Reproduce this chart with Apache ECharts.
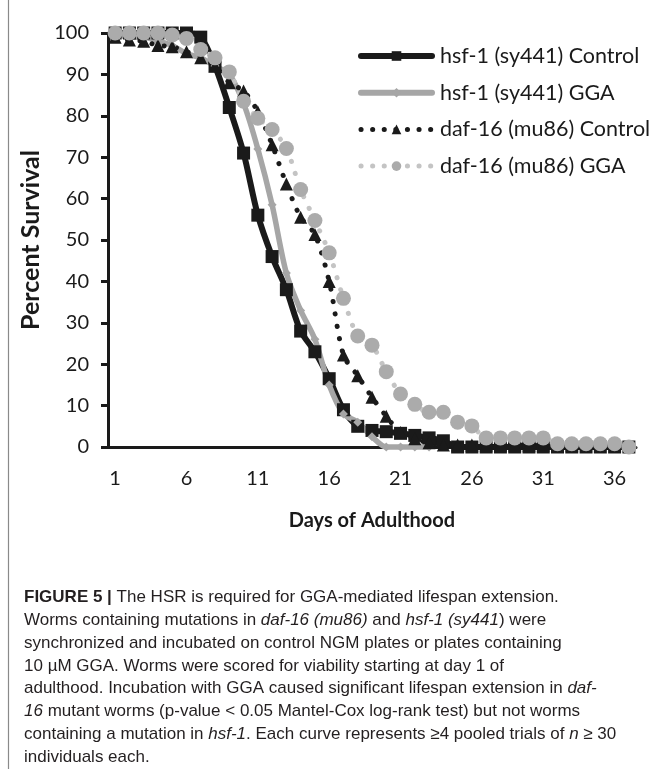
<!DOCTYPE html>
<html>
<head>
<meta charset="utf-8">
<script src="https://cdn.jsdelivr.net/npm/echarts@6/dist/echarts.min.js"></script>
<style>
html,body{margin:0;padding:0;background:#fff;}
#chart{width:655px;height:769px;}
</style>
</head>
<body>
<div id="chart"></div>
<script>
// ---- data ----
const days = ['1','2','3','4','5','6','7','8','9','10','11','12','13','14','15','16','17','18','19','20',
              '21','22','23','24','25','26','27','28','29','30','31','32','33','34','35','36','37'];
const seriesNames = ['hsf-1 (sy441) Control', 'hsf-1 (sy441) GGA', 'daf-16 (mu86) Control', 'daf-16 (mu86) GGA'];
const hsf1Control = [100,100,100,100,100,100,99,92,82,71,56,46,38,28,23,16.5,9,5,4,3.7,
                     3.3,2.8,2.2,1.5,0,0,0,0,0,0,0,0,0,0,0,0,0];
const hsf1GGA = [100,99,99,98,97,95,94,92,90,83,72,58.5,42,33,26,15,8,6,2.5,0,
                 0,0,0];
const daf16Control = [99,98.3,98,97,96.7,95.5,94,92,88,86,81,73,63.5,55.5,51.3,40,22.2,17.2,12,7.4,
                      3.5,2,1,0.5,0.5,0.5,0.5,0.5,0.5,0.5,0.5,0.5,0.5];
const daf16GGA = [100,100,100,100,99.5,98.7,96,94,90.6,83.5,79.4,76.7,72.1,62.2,54.7,46.9,35.9,26.8,24.6,18.2,
                  12.8,10.3,8.4,8.4,6,5.1,2.2,2.2,2.2,2.2,2.2,0.8,0.8,0.8,0.8,0.8,0];
const yMin = 0, yMax = 100, yStep = 10;
const xTitle = 'Days of Adulthood';
const yTitle = 'Percent Survival';
const captionLines = [
  '{b|FIGURE 5 |} The HSR is required for GGA-mediated lifespan extension.',
  'Worms containing mutations in {i|daf-16 (mu86)} and {i|hsf-1 (sy441}) were',
  'synchronized and incubated on control NGM plates or plates containing',
  '10 µM GGA. Worms were scored for viability starting at day 1 of',
  'adulthood. Incubation with GGA caused significant lifespan extension in {i|daf-}',
  '{i|16} mutant worms (p-value < 0.05 Mantel-Cox log-rank test) but not worms',
  'containing a mutation in {i|hsf-1}. Each curve represents ≥4 pooled trials of {i|n} ≥ 30',
  'individuals each.'
];

// ---- styling ----
const FONT = 'Lato, "Open Sans", sans-serif';
const CAPFONT = '"Liberation Sans", Arial, sans-serif';
const BLACK = '#1a1a1a';
const CAP_SIZE = 17;

const capRich = {
  b: {fontWeight:'bold', fontSize:CAP_SIZE, fontFamily:CAPFONT, fill:'#231f20', color:'#231f20'},
  i: {fontStyle:'italic', fontSize:CAP_SIZE, fontFamily:CAPFONT, fill:'#231f20', color:'#231f20'}
};
const graphics = [
  {type:'line', shape:{x1:8.5, y1:0, x2:8.5, y2:769}, style:{stroke:'#8a8a8a', lineWidth:1.2}, silent:true}
];
captionLines.forEach((t, k) => {
  graphics.push({
    type:'text', left:24, top: 589 + k*22.8,
    style:{text:t, fontSize:CAP_SIZE, fontFamily:CAPFONT, fill:'#231f20', rich:capRich}
  });
});

const chart = echarts.init(document.getElementById('chart'), null, {renderer:'canvas'});
chart.setOption({
  animation:false,
  backgroundColor:'#fff',
  grid:{left:108, top:33, right:19, bottom:322, containLabel:false},
  legend:{
    orient:'vertical', left:353, top:39,
    itemWidth:71, itemHeight:12, itemGap:12.7,
    textStyle:{fontSize:21.5, color:BLACK, fontFamily:FONT, lineHeight:24, padding:[0,0,0,3]},
    data:[
      {name:seriesNames[0], lineStyle:{width:6, cap:'round'}},
      {name:seriesNames[1], lineStyle:{width:6, cap:'round'}},
      {name:seriesNames[2], lineStyle:{width:5, cap:'round', type:[0.1, 11.5]}},
      {name:seriesNames[3], lineStyle:{width:5, cap:'round', type:[0.1, 11.5]}}
    ]
  },
  xAxis:{
    type:'category', data:days, boundaryGap:true,
    name:xTitle, nameLocation:'middle', nameGap:64,
    nameTextStyle:{fontSize:20, fontWeight:'bold', color:BLACK, fontFamily:FONT},
    axisLine:{lineStyle:{color:BLACK, width:3}},
    axisTick:{interval:4, length:7, lineStyle:{color:BLACK, width:3}},
    axisLabel:{interval:4, margin:22, fontSize:20, color:BLACK, fontFamily:FONT},
    splitLine:{show:false}
  },
  yAxis:{
    type:'value', min:yMin, max:yMax, interval:yStep,
    name:yTitle, nameLocation:'middle', nameGap:64, nameRotate:90,
    nameTextStyle:{fontSize:25, fontWeight:'bold', color:BLACK, fontFamily:FONT},
    axisLine:{show:true, lineStyle:{color:BLACK, width:3}},
    axisTick:{show:true, length:7, lineStyle:{color:BLACK, width:3}},
    axisLabel:{margin:19, fontSize:20, color:BLACK, fontFamily:FONT},
    splitLine:{show:false}
  },
  graphic:graphics,
  series:[
    {name:seriesNames[0], type:'line', data:hsf1Control, smooth:0.3, clip:false,
     symbol:'rect', symbolSize:13, showAllSymbol:true,
     itemStyle:{color:BLACK}, lineStyle:{color:BLACK, width:6, cap:'round'}},
    {name:seriesNames[1], type:'line', data:hsf1GGA, smooth:0.3, clip:false,
     symbol:'diamond', symbolSize:9, showAllSymbol:true,
     itemStyle:{color:'#a6a6a6'}, lineStyle:{color:'#a6a6a6', width:5.5, cap:'round'}},
    {name:seriesNames[2], type:'line', data:daf16Control, smooth:0.3, clip:false,
     symbol:'triangle', symbolSize:13, showAllSymbol:true,
     itemStyle:{color:BLACK}, lineStyle:{color:BLACK, width:5, type:[0.1, 12.4], cap:'round'}},
    {name:seriesNames[3], type:'line', data:daf16GGA, smooth:0.3, clip:false,
     symbol:'circle', symbolSize:15, showAllSymbol:true,
     itemStyle:{color:'#ababab'}, lineStyle:{color:'#c4c4c4', width:5, type:[0.1, 12.4], cap:'round'}}
  ]
});
</script>
</body>
</html>
